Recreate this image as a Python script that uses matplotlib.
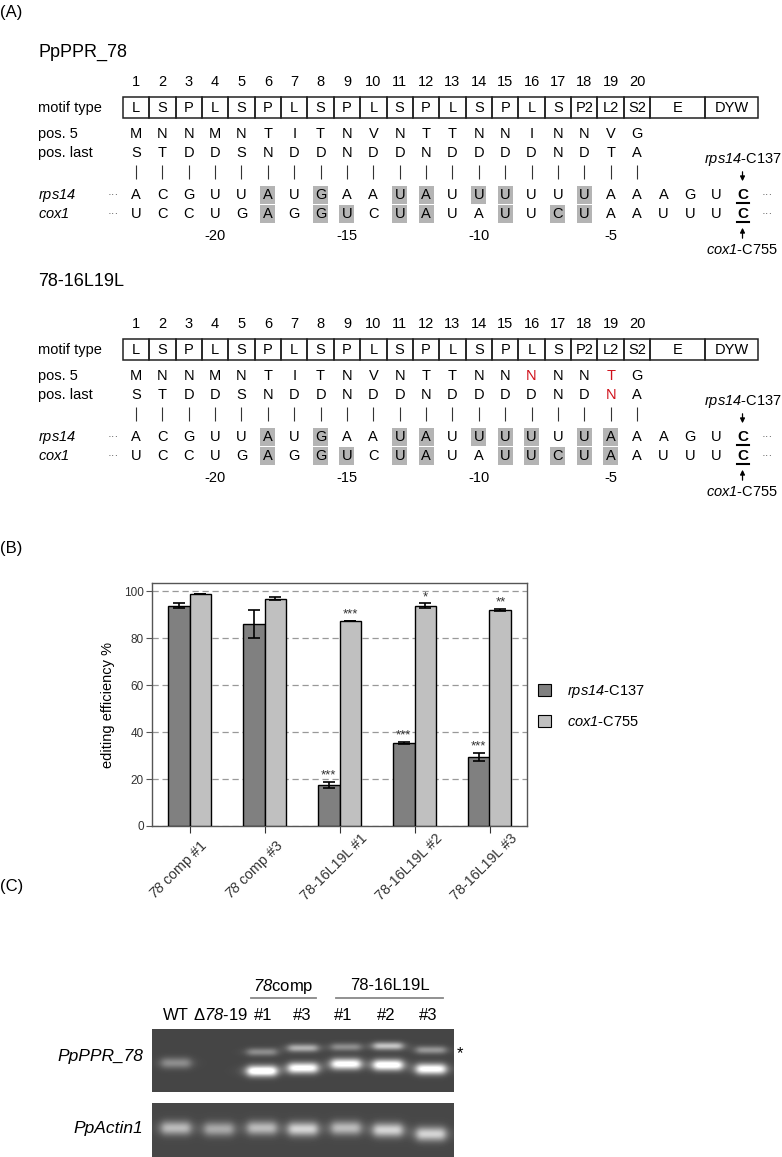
import numpy as np
import matplotlib
matplotlib.use("Agg")
import matplotlib.pyplot as plt
from matplotlib.patches import Rectangle, Patch
from matplotlib.transforms import ScaledTranslation

plt.rcParams['font.family'] = ['Liberation Sans', 'DejaVu Sans']
# every math segment in this figure is an italic gene / line name
plt.rcParams['mathtext.fontset'] = 'custom'
plt.rcParams['mathtext.rm'] = 'Liberation Sans:italic'
plt.rcParams['mathtext.it'] = 'Liberation Sans:italic'
plt.rcParams['mathtext.bf'] = 'Liberation Sans:bold'

# ---- panel A data
motif_nums = list(range(1, 21))
motif_types = ['L', 'S', 'P', 'L', 'S', 'P', 'L', 'S', 'P', 'L',
               'S', 'P', 'L', 'S', 'P', 'L', 'S', 'P2', 'L2', 'S2']
pos5_wt = list("MNNMNTITNVNTTNNINNVG")
poslast_wt = list("STDDSNDDNDDNDDDDNDTA")
pos5_mut = list("MNNMNTITNVNTTNNNNNTG")
poslast_mut = list("STDDSNDDNDDNDDDDNDNA")
red_pos5_mut = [16, 19]
red_poslast_mut = [19]
rps14_seq = list("ACGUUAUGAAUAUUUUUUAAAGUC")
cox1_seq = list("UCCUGAGGUCUAUAUUCUAAUUUC")
shade_rps14_wt = [6, 8, 11, 12, 14, 15, 18]
shade_cox1_wt = [6, 8, 9, 11, 12, 15, 17, 18]
shade_rps14_mut = [6, 8, 11, 12, 14, 15, 16, 18, 19]
shade_cox1_mut = [6, 8, 9, 11, 12, 15, 16, 17, 18, 19]
rel_pos = {4: '-20', 9: '-15', 14: '-10', 19: '-5'}

# ---- panel B data
lines = ['$78$ comp #1', '$78$ comp #3',
         '78-16L19L #1', '78-16L19L #2', '78-16L19L #3']
rps14_eff = [93.8, 86.2, 17.6, 35.3, 29.4]
rps14_err = [1.0, 6.0, 1.3, 0.4, 1.6]
cox1_eff = [98.7, 96.8, 87.2, 93.8, 91.9]
cox1_err = [0.0, 0.7, 0.0, 1.0, 0.4]
rps14_stars = ['', '', '***', '***', '***']
cox1_stars = ['', '', '***', '*', '**']

# ---- panel C data (band brightness per lane)
lane_labels = ['WT', '\u0394$78$-19', '#1', '#3', '#1', '#2', '#3']
label_x = [176, 220, 263, 302, 343, 386, 428]
lane_x = [176, 219, 262, 303, 346, 388, 431]
ppr_low_y = [1063, 1066, 1071, 1068, 1064, 1065, 1069]
ppr_low_amp = [0.28, 0.0, 0.85, 0.78, 0.78, 0.82, 0.78]
ppr_up_y = [1050, 1050, 1052, 1048, 1047, 1046, 1050]
ppr_up_amp = [0.0, 0.0, 0.28, 0.42, 0.28, 0.50, 0.32]
actin_y = [1128, 1129, 1128, 1129, 1128, 1130, 1134]
actin_amp = [0.45, 0.38, 0.45, 0.55, 0.45, 0.55, 0.55]

W, H = 782, 1157
fig = plt.figure(figsize=(W / 100, H / 100), dpi=100)
ax0 = fig.add_axes([0, 0, 1, 1])
ax0.axis('off')

x0, dx = 136, 26.37
colx = [x0 + (i - 1) * dx for i in range(1, 25)]
fs = 10.5


def draw_section(dy, title, title_y, pos5, poslast, sh_r, sh_c, red5, redl):
    ax0.text(38, title_y, title, fontsize=13, va='center')
    for n in motif_nums:
        ax0.text(colx[n - 1], 82 + dy, str(n), fontsize=fs, ha='center', va='center')
    ax0.text(38, 108 + dy, 'motif type', fontsize=fs, va='center')
    # motif boxes
    for i, m in enumerate(motif_types):
        ax0.add_patch(Rectangle((colx[i] - dx / 2, 97 + dy), dx, 21, fill=False, lw=1.1, ec='#222222'))
        ax0.text(colx[i], 108 + dy, m, fontsize=fs, ha='center', va='center')
    e_l = colx[19] + dx / 2
    ax0.add_patch(Rectangle((e_l, 97 + dy), 705 - e_l, 21, fill=False, lw=1.1, ec='#222222'))
    ax0.text((e_l + 705) / 2, 108 + dy, 'E', fontsize=fs, ha='center', va='center')
    ax0.add_patch(Rectangle((705, 97 + dy), 53, 21, fill=False, lw=1.1, ec='#222222'))
    ax0.text(731.5, 108 + dy, 'DYW', fontsize=fs, ha='center', va='center')

    ax0.text(38, 134 + dy, 'pos. 5', fontsize=fs, va='center')
    ax0.text(38, 153 + dy, 'pos. last', fontsize=fs, va='center')
    for i in range(20):
        c5 = '#d0101a' if (i + 1) in red5 else 'black'
        cl = '#d0101a' if (i + 1) in redl else 'black'
        ax0.text(colx[i], 134 + dy, pos5[i], fontsize=fs, ha='center', va='center', color=c5)
        ax0.text(colx[i], 153 + dy, poslast[i], fontsize=fs, ha='center', va='center', color=cl)
    ax0.vlines(colx[:20], 165 + dy, 179 + dy, color='#333333', lw=0.8)

    ax0.text(38, 195 + dy, '$rps14$', fontsize=fs, va='center')
    ax0.text(38, 214 + dy, '$cox1$', fontsize=fs, va='center')
    for yy, seq, sh in [(195, rps14_seq, sh_r), (214, cox1_seq, sh_c)]:
        ax0.text(113, yy + dy, '\u00b7\u00b7\u00b7', fontsize=8, ha='center', va='center', color='#444444')
        ax0.text(colx[23] + 25, yy + dy, '\u00b7\u00b7\u00b7', fontsize=8, ha='center', va='center', color='#444444')
        for k in sh:
            ax0.add_patch(Rectangle((colx[k - 1] - 7.5, yy + dy - 9.3), 15, 18.6,
                                    fc='#b4b4b4', ec='none', zorder=0))
        for i, nt in enumerate(seq):
            if i == 23:
                ax0.text(colx[i], yy + dy, nt, fontsize=fs + 0.5, fontweight='bold',
                         ha='center', va='center')
                ax0.plot([colx[i] - 6, colx[i] + 6], [yy + dy + 8] * 2, color='black', lw=1.5)
            else:
                ax0.text(colx[i], yy + dy, nt, fontsize=fs, ha='center', va='center')
    for k, s in rel_pos.items():
        ax0.text(colx[k - 1], 236 + dy, s, fontsize=fs, ha='center', va='center')

    cx = colx[23]
    ax0.text(cx, 160 + dy, '$rps14$-C137', fontsize=fs, ha='center', va='center')
    ax0.annotate('', xy=(cx, 184 + dy), xytext=(cx, 169 + dy),
                 arrowprops=dict(arrowstyle='-|>', color='black', lw=0.9, mutation_scale=7))
    ax0.text(cx, 250 + dy, '$cox1$-C755', fontsize=fs, ha='center', va='center')
    ax0.annotate('', xy=(cx, 225 + dy), xytext=(cx, 241 + dy),
                 arrowprops=dict(arrowstyle='-|>', color='black', lw=0.9, mutation_scale=7))


ax0.text(0, 13, '(A)', fontsize=12, va='center')
draw_section(0, 'PpPPR_78', 52, pos5_wt, poslast_wt, shade_rps14_wt, shade_cox1_wt, [], [])
draw_section(242, '78-16L19L', 281, pos5_mut, poslast_mut, shade_rps14_mut, shade_cox1_mut,
             red_pos5_mut, red_poslast_mut)

# ---- panel B
ax0.text(0, 548, '(B)', fontsize=12, va='center')
ax = fig.add_axes([152 / W, 1 - 826 / H, 375 / W, 243 / H])
x = np.arange(len(lines))
w = 0.29
ekw = dict(elinewidth=1.2, capthick=1.2, ecolor='black')
ax.bar(x - w / 2, rps14_eff, w, yerr=rps14_err, color='#808080', edgecolor='black',
       linewidth=1.0, capsize=4, error_kw=ekw, zorder=3)
ax.bar(x + w / 2, cox1_eff, w, yerr=cox1_err, color='#c0c0c0', edgecolor='black',
       linewidth=1.0, capsize=4, error_kw=ekw, zorder=3)
for i in range(len(lines)):
    if rps14_stars[i]:
        ax.text(x[i] - w / 2, rps14_eff[i] + rps14_err[i] + 0.2, rps14_stars[i],
                ha='center', va='bottom', fontsize=9.5, color='#333333')
    if cox1_stars[i]:
        ax.text(x[i] + w / 2, cox1_eff[i] + cox1_err[i] + 0.2, cox1_stars[i],
                ha='center', va='bottom', fontsize=9.5, color='#333333')
ax.set_xlim(-0.5, 4.5)
ax.set_ylim(0, 103.5)
ax.set_yticks(range(0, 101, 20))
ax.yaxis.grid(True, linestyle=(0, (5, 3)), color='#999999', lw=0.9, zorder=0)
ax.set_axisbelow(True)
ax.tick_params(axis='y', labelsize=8.5, labelcolor='#333333', length=4, color='#555555', pad=2)
ax.tick_params(axis='x', length=5, color='#333333')
ax.set_xticks(x)
ax.set_xticklabels(lines, rotation=45, ha='left', va='bottom', rotation_mode='anchor',
                   fontsize=10.3, color='#333333')
for lab in ax.get_xticklabels():
    lab.set_transform(lab.get_transform() + ScaledTranslation(-0.31, -0.65, fig.dpi_scale_trans))
for s in ax.spines.values():
    s.set_color('#555555')
    s.set_linewidth(1.0)
ax.set_ylabel('editing efficiency %', fontsize=10.5, labelpad=6)
handles = [Patch(fc='#808080', ec='black', lw=0.8), Patch(fc='#c0c0c0', ec='black', lw=0.8)]
ax.legend(handles, ['$rps14$-C137', '$cox1$-C755'], loc='center left',
          bbox_to_anchor=(538 / W, 1 - 706 / H), bbox_transform=fig.transFigure,
          frameon=False, handlelength=0.9, handleheight=0.9, labelspacing=1.0,
          handletextpad=1.1, borderpad=0, borderaxespad=0, fontsize=10.5)

# ---- panel C
ax0.text(0, 886, '(C)', fontsize=12, va='center')
ax0.text(283, 986, '$78$comp', fontsize=12, ha='center', va='center')
ax0.plot([251, 316], [998, 998], color='#888888', lw=1.3)
ax0.text(390, 986, '78-16L19L', fontsize=12, ha='center', va='center')
ax0.plot([336, 443], [998, 998], color='#888888', lw=1.3)
for lx, lab in zip(label_x, lane_labels):
    ax0.text(lx, 1015, lab, fontsize=12, ha='center', va='center')


def gel(xa, xb, ya, yb, bg, bands):
    gx = np.arange(xa, xb) + 0.5
    gy = np.arange(ya, yb) + 0.5
    X, Y = np.meshgrid(gx, gy)
    img = np.full(X.shape, bg)
    for bx, by, amp, bw, bh in bands:
        img += amp * np.exp(-((Y - by) / bh) ** 2) / (1 + ((X - bx) / (bw / 2)) ** 6)
    return np.clip(img, 0, 1)


top_bands = [(lx, y, a, 30, 5.5) for lx, y, a in zip(lane_x, ppr_low_y, ppr_low_amp)]
top_bands += [(lx, y, a, 30, 4.0) for lx, y, a in zip(lane_x, ppr_up_y, ppr_up_amp)]
img_top = gel(152, 454, 1029, 1092, 0.27, top_bands)
ax0.imshow(img_top, cmap='gray', vmin=0, vmax=1, extent=(152, 454, 1092, 1029),
           origin='upper', aspect='auto', interpolation='bilinear')
bot_bands = [(lx, y, a, 30, 7.0) for lx, y, a in zip(lane_x, actin_y, actin_amp)]
img_bot = gel(152, 454, 1103, 1157, 0.28, bot_bands)
ax0.imshow(img_bot, cmap='gray', vmin=0, vmax=1, extent=(152, 454, 1157, 1103),
           origin='upper', aspect='auto', interpolation='bilinear')
ax0.text(143, 1056, 'PpPPR_78', fontsize=12.5, style='italic', ha='right', va='center')
ax0.text(143, 1128, 'PpActin1', fontsize=12.5, style='italic', ha='right', va='center')
ax0.text(460, 1054, '*', fontsize=12, ha='center', va='center')

ax0.set_xlim(0, W)
ax0.set_ylim(H, 0)
fig.savefig('out.png', dpi=100)
